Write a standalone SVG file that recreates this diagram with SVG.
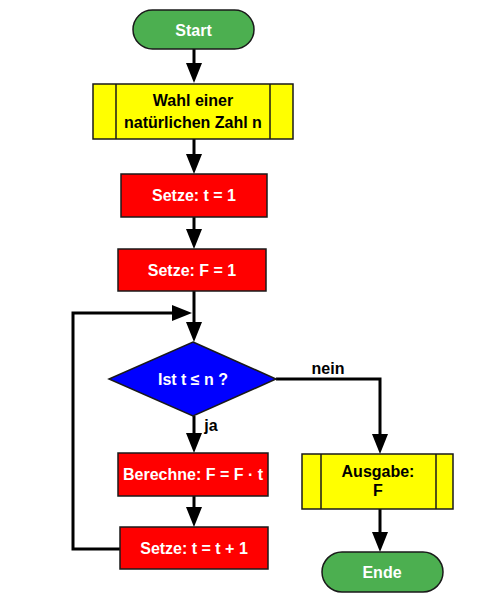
<svg xmlns="http://www.w3.org/2000/svg" width="500" height="600" viewBox="0 0 500 600">
<defs>
<marker id="ah" viewBox="0 0 20 16" refX="12" refY="8" markerWidth="20" markerHeight="16" markerUnits="userSpaceOnUse" orient="auto">
<path d="M0,0 L20,8 L0,16 z" fill="#000"/>
</marker>
<style>
.sh{stroke:#1a1a1a;stroke-width:1.5}
.term{fill:#4caf50}
.proc{fill:#ff0000}
.io{fill:#ffff00}
.dec{fill:#0000ff}
.con{fill:none;stroke:#000;stroke-width:3}
text{font-family:"Liberation Sans",Arial,sans-serif;font-weight:bold;font-size:16px;text-anchor:middle}
.w{fill:#fff}
.b{fill:#000}
</style>
</defs>
<rect width="500" height="600" fill="#fff"/>
<g id="connectors">
<path class="con" d="M194,49 V75" marker-end="url(#ah)"/>
<path class="con" d="M194,139 V166" marker-end="url(#ah)"/>
<path class="con" d="M194,217 V241" marker-end="url(#ah)"/>
<path class="con" d="M194,291 V334" marker-end="url(#ah)"/>
<path class="con" d="M120,549 H73 V313 H184" marker-end="url(#ah)"/>
<path class="con" d="M194,416 V445" marker-end="url(#ah)"/>
<path class="con" d="M194,496 V519" marker-end="url(#ah)"/>
<path class="con" d="M276,379 H380 V446" marker-end="url(#ah)"/>
<path class="con" d="M380,509 V544" marker-end="url(#ah)"/>
<text class="b" x="328" y="374">nein</text>
<text class="b" x="211" y="431">ja</text>
</g>
<g id="start">
<rect class="sh term" x="133" y="10" width="121" height="39" rx="19.5"/>
<text class="w" x="193.5" y="35.5">Start</text>
</g>
<g id="input">
<rect class="sh io" x="93" y="84" width="200" height="55"/>
<line class="sh" x1="116" y1="84" x2="116" y2="139"/>
<line class="sh" x1="270" y1="84" x2="270" y2="139"/>
<text class="b" x="193" y="106">Wahl einer</text>
<text class="b" x="193" y="128">natürlichen Zahl n</text>
</g>
<g id="set-t">
<rect class="sh proc" x="121" y="174" width="146" height="43"/>
<text class="w" x="194" y="201">Setze: t = 1</text>
</g>
<g id="set-f">
<rect class="sh proc" x="118" y="249" width="148" height="42"/>
<text class="w" x="192" y="276">Setze: F = 1</text>
</g>
<g id="decision">
<polygon class="sh dec" points="193,342 276,379 193,416 109,379"/>
<text class="w" x="193" y="385">Ist t ≤ n ?</text>
</g>
<g id="compute">
<rect class="sh proc" x="118" y="453" width="150" height="43"/>
<text class="w" x="193" y="480">Berechne: F = F · t</text>
</g>
<g id="increment">
<rect class="sh proc" x="120" y="527" width="148" height="42"/>
<text class="w" x="194" y="554">Setze: t = t + 1</text>
</g>
<g id="output">
<rect class="sh io" x="302" y="454" width="151" height="55"/>
<line class="sh" x1="321" y1="454" x2="321" y2="509"/>
<line class="sh" x1="436" y1="454" x2="436" y2="509"/>
<text class="b" x="378" y="477">Ausgabe:</text>
<text class="b" x="378" y="496">F</text>
</g>
<g id="end">
<rect class="sh term" x="322" y="552" width="121" height="40" rx="20"/>
<text class="w" x="382" y="578">Ende</text>
</g>
</svg>
